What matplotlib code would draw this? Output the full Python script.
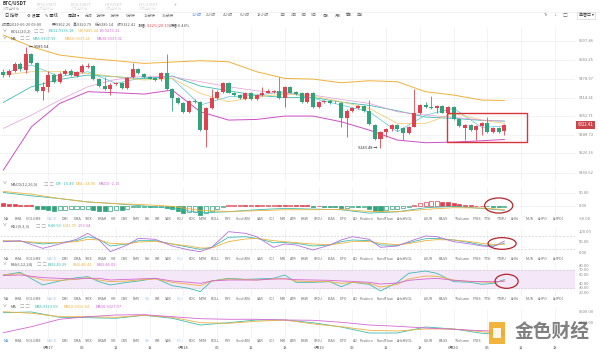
import matplotlib
matplotlib.use("Agg")
import matplotlib.pyplot as plt
from matplotlib.patches import Rectangle, Ellipse
from matplotlib.transforms import blended_transform_factory
import numpy as np

plt.rcParams["font.family"] = ["Noto Sans CJK SC", "DejaVu Sans"]

# ---- candle data (1h, 6/16 16:00 .. 6/20 09:00) ----
opens = [9502.6, 9491.3, 9506.0, 9528.6, 9508.3, 9562.5, 9533.0, 9438.0, 9451.8, 9491.3,
         9468.7, 9494.7, 9506.0, 9489.0, 9502.6, 9519.6, 9522.0, 9476.7, 9454.0, 9442.8,
         9460.8, 9465.4, 9446.0, 9483.4, 9510.6, 9493.6, 9483.4, 9480.0, 9476.7, 9499.3,
         9442.8, 9412.0, 9397.6, 9367.0, 9403.0, 9399.8, 9305.0, 9378.3, 9412.0, 9434.8,
         9463.0, 9431.5, 9423.5, 9410.0, 9429.0, 9410.0, 9423.5, 9431.5, 9434.8, 9438.0,
         9412.0, 9451.8, 9434.8, 9429.0, 9401.0, 9429.0, 9384.0, 9401.0, 9403.0, 9398.7,
         9397.6, 9344.4, 9370.4, 9378.3, 9386.3, 9370.4, 9321.8, 9273.3, 9299.2, 9307.2,
         9321.8, 9310.5, 9295.9, 9316.2, 9361.4, 9389.6, 9384.0, 9378.3, 9386.3, 9363.7,
         9381.7, 9341.0, 9310.5, 9321.8, 9305.0, 9318.5, 9329.8, 9299.2, 9310.5, 9302.26]
closes = [9491.3, 9505.0, 9528.6, 9510.6, 9562.5, 9533.0, 9438.0, 9451.8, 9491.3, 9468.7,
          9494.7, 9506.0, 9491.3, 9500.4, 9522.0, 9522.0, 9476.7, 9454.0, 9442.8, 9457.4,
          9465.4, 9446.0, 9480.0, 9510.6, 9497.0, 9483.4, 9479.0, 9474.4, 9499.3, 9442.8,
          9412.0, 9397.6, 9367.0, 9403.0, 9399.8, 9305.0, 9378.3, 9412.0, 9434.8, 9463.0,
          9431.5, 9423.5, 9412.0, 9429.0, 9410.0, 9423.5, 9431.5, 9438.0, 9435.5, 9412.0,
          9451.8, 9431.5, 9425.8, 9401.0, 9429.0, 9384.0, 9401.0, 9403.0, 9395.3, 9401.0,
          9344.4, 9370.4, 9378.3, 9386.3, 9370.4, 9325.2, 9273.3, 9299.2, 9307.2, 9321.8,
          9307.2, 9295.9, 9316.2, 9361.4, 9389.6, 9384.0, 9378.3, 9386.3, 9363.7, 9381.7,
          9341.0, 9318.5, 9321.8, 9305.0, 9318.5, 9329.8, 9299.2, 9310.5, 9299.2, 9322.41]
highs = [9510.6, 9510.6, 9536.5, 9536.5, 9585.54, 9567.0, 9536.5, 9468.7, 9506.0, 9497.0,
         9502.6, 9510.6, 9510.6, 9506.0, 9528.6, 9533.0, 9525.0, 9480.0, 9485.7, 9465.4,
         9468.7, 9468.7, 9483.4, 9533.0, 9514.0, 9497.0, 9488.0, 9483.4, 9502.6, 9562.5,
         9446.0, 9415.6, 9401.0, 9406.6, 9409.0, 9403.0, 9381.7, 9442.8, 9440.5, 9468.7,
         9466.5, 9434.8, 9427.0, 9432.6, 9432.6, 9427.0, 9451.8, 9442.8, 9440.5, 9483.4,
         9455.0, 9455.0, 9438.0, 9432.6, 9432.6, 9432.6, 9404.3, 9406.6, 9406.6, 9404.3,
         9401.0, 9375.0, 9381.7, 9389.6, 9389.6, 9406.6, 9325.2, 9302.6, 9310.5, 9325.2,
         9325.2, 9314.0, 9318.5, 9442.8, 9393.0, 9401.0, 9420.0, 9389.6, 9389.6, 9386.3,
         9386.3, 9344.4, 9325.2, 9325.2, 9321.8, 9333.0, 9347.8, 9314.0, 9314.0, 9325.79]
lows = [9485.7, 9485.7, 9502.6, 9506.0, 9497.0, 9528.6, 9434.8, 9406.6, 9434.8, 9463.0,
        9465.4, 9491.3, 9488.0, 9485.7, 9499.3, 9517.0, 9474.4, 9451.8, 9440.5, 9423.5,
        9457.4, 9442.8, 9442.8, 9480.0, 9493.6, 9480.0, 9476.7, 9472.0, 9472.0, 9440.5,
        9370.4, 9393.0, 9363.7, 9363.7, 9395.3, 9302.6, 9248.0, 9375.0, 9409.0, 9431.5,
        9429.0, 9420.0, 9409.0, 9406.6, 9406.6, 9406.6, 9420.0, 9429.0, 9429.0, 9409.0,
        9384.0, 9429.0, 9422.4, 9397.6, 9397.6, 9380.6, 9380.6, 9397.6, 9392.0, 9395.3,
        9316.2, 9282.3, 9367.0, 9375.0, 9367.0, 9321.8, 9271.0, 9243.48, 9282.3, 9302.6,
        9302.6, 9271.0, 9291.3, 9314.0, 9359.0, 9380.6, 9375.0, 9361.4, 9361.4, 9359.0,
        9338.8, 9314.0, 9271.0, 9301.5, 9271.0, 9288.0, 9295.9, 9295.9, 9295.9, 9289.14]

# overlay lines, read every 5 candles
line_idx = [0, 5, 10, 15, 20, 25, 30, 35, 40, 45, 50, 55, 60, 65, 70, 75, 80, 85, 89]
boll_ub = [9627.0, 9587.4, 9559.2, 9547.9, 9540.0, 9530.9, 9535.4, 9540.0, 9536.5, 9502.6,
           9480.0, 9477.8, 9465.4, 9472.1, 9468.8, 9434.9, 9423.6, 9406.6, 9405.2]
boll_mid = [9398.7, 9451.8, 9476.7, 9491.4, 9485.7, 9478.9, 9488.0, 9454.0, 9438.2, 9422.4,
            9415.6, 9415.6, 9399.8, 9388.5, 9370.4, 9349.0, 9344.5, 9337.7, 9335.2]
boll_lb = [9169.3, 9316.2, 9395.3, 9434.9, 9431.5, 9427.0, 9440.5, 9367.0, 9338.8, 9341.0,
           9352.4, 9352.4, 9333.2, 9304.9, 9271.0, 9262.0, 9264.2, 9268.7, 9273.1]
ma5 = [9497.0, 9525.3, 9485.7, 9502.7, 9463.1, 9483.4, 9480.1, 9389.7, 9417.9, 9423.6,
       9434.9, 9412.3, 9389.7, 9367.0, 9299.3, 9355.8, 9378.4, 9314.0, 9318.5]
ma10 = [9491.4, 9502.7, 9502.7, 9497.0, 9485.7, 9474.4, 9480.1, 9429.2, 9401.0, 9417.9,
        9426.9, 9420.2, 9401.0, 9378.4, 9327.5, 9327.5, 9361.4, 9338.8, 9327.5]
ma30 = [9310.6, 9355.8, 9406.6, 9451.8, 9476.7, 9488.0, 9485.7, 9468.8, 9451.8, 9438.2,
        9429.2, 9423.6, 9408.9, 9395.3, 9367.0, 9355.8, 9347.8, 9338.8, 9335.4]

# MACD
macd_hist = [13, 9, 6.5, 5, 4, 2.5, -10, -13, -15.6, -18,
             -15.6, -15, -13, -12.5, -12, -10, -15.6, -18, -21, -18,
             -15.6, -16, -10.4, -5.2, -4, -3.5, -3.8, -2.6, -2, -7.8,
             -13, -18, -28.6, -23.4, -23, -36.4, -26, -18.2, -10.4, -2.6,
             2.6, 3, 3.5, 2.6, 3, 2, 2.6, 3.2, 3.9, 3,
             2.6, 3.5, 2.6, 2.6, 2.6, -2.6, 1.3, -3.9, -3.9, -5.2,
             -7.8, -6.5, -5.2, -5.2, -5, -10.4, -18.2, -20.8, -15.6, -13,
             -10.4, -7.8, -2.6, 5.2, 10.4, 15.6, 18.2, 18.5, 15.6, 15,
             13, 6.5, 3.9, 2.6, 1.3, 1.3, -1.3, -2.6, -2.6, -2.2]
dif = [52, 39, 28.6, 15.6, 9.1, 0, -9.1, -26, -22.1, -14.3, -9.1, -11.7, -14.3, -27.3,
       -22.1, -6.5, -1.3, -9.1, -16.46]
dea = [55.9, 45.5, 28.6, 15.6, 9.1, 5.2, -1.3, -16.9, -20.8, -18.2, -14.3, -14.3, -13,
       -20.8, -22.1, -13, -6.5, -7.8, -14.05]

# KDJ / RSI
osc_idx = [0, 3, 7, 10, 13, 15, 17, 19, 22, 24, 27, 30, 33, 35, 37, 40, 43, 45, 48, 50,
           52, 55, 58, 60, 62, 65, 67, 70, 72, 75, 77, 80, 83, 85, 87, 89]
kdj_k = [56.9, 55.4, 43.1, 49.2, 58.5, 77, 64.7, 33.8, 43.1, 58.5,
         58.5, 43.1, 27.6, 18.4, 27.6, 73.9, 77, 69.3, 49.2, 49.2,
         46.1, 33.8, 38.4, 53.9, 61.6, 58.5, 38.4, 36.9, 49.2, 67.7,
         69.3, 61.6, 49.2, 38.4, 33.8, 46.6]
kdj_d = [58.5, 55.4, 49.2, 49.2, 53.9, 64.7, 61.6, 46.1, 43.1, 52.3,
         55.4, 43.1, 33.8, 24.5, 24.5, 53.9, 66.2, 69.3, 58.5, 53.9,
         49.2, 43.1, 40, 46.1, 53.9, 55.4, 46.1, 40, 44.6, 58.5,
         63.1, 61.6, 53.9, 46.1, 40, 41.8]
kdj_j = [53.9, 58.5, 23, 43.1, 64.7, 92.4, 61.6, 7.6, 38.4, 69.3,
         64.7, 33.8, 15.3, 7.6, 27.6, 100.1, 92.4, 77, 27.6, 43.1,
         38.4, 15.3, 38.4, 61.6, 77, 64.7, 27.6, 33.8, 53.9, 80.1,
         77, 53.9, 43.1, 33.8, 30.7, 56.6]
rsi1 = [59.8, 65.8, 37.3, 46.3, 53.8, 56, 44.8, 37.3, 43.3, 46.3,
        52.3, 35.8, 29.8, 22.3, 46.3, 52.3, 50, 50.8, 52.3, 59.8,
        43.3, 43.3, 44.8, 33.5, 43.3, 38.8, 23.8, 43.3, 63.5, 68.7,
        63.5, 44.8, 43.3, 38.8, 41, 49.4]
rsi2 = [59.8, 62.8, 48.5, 47.8, 50, 53.8, 48.5, 44.8, 46.3, 48.5,
        50.8, 43.3, 38.8, 35.8, 46.3, 50.8, 49.3, 48.5, 50.8, 52.3,
        46.3, 44.8, 44.8, 41, 43.3, 41, 32.8, 38.8, 50.8, 57.5,
        56.8, 48.5, 44.8, 44, 43.3, 46.4]
rsi3 = [58.3, 59.8, 53.8, 52.3, 50.8, 52.3, 52.3, 48.5, 50, 50.8,
        52.3, 46.3, 43.3, 41, 46.3, 48.5, 48.5, 48.5, 50.8, 50.8,
        49.3, 48.5, 47.8, 46.3, 45.5, 43.3, 39.5, 41.8, 47.8, 50.8,
        52.3, 47.8, 45.5, 44.8, 44.8, 46.0]

# lower MA panel
mp5 = [9493.6, 9500.0, 9451.8, 9448.2, 9442.7, 9470.0, 9442.7, 9381.8, 9402.7, 9427.3,
       9427.3, 9402.7, 9363.6, 9309.1, 9309.1, 9363.6, 9345.5, 9306.4, 9290.9]
mp10 = [9502.7, 9488.2, 9457.3, 9457.3, 9451.8, 9470.0, 9451.8, 9402.7, 9397.3, 9415.5,
        9427.3, 9390.9, 9366.4, 9333.7, 9327.3, 9345.5, 9345.5, 9320.9, 9302.7]
mp30 = [9311.8, 9366.4, 9433.6, 9457.3, 9472.7, 9475.5, 9457.3, 9439.1, 9433.6, 9433.6,
        9427.3, 9424.6, 9406.4, 9381.8, 9370.0, 9354.6, 9342.7, 9330.0, 9324.6]

price_ticks = ["9607.86", "9543.25", "9478.97", "9414.14", "9351.71", "9288.72", "9226.16", "9160.62"]
date_labels = ["6月17", "06", "12", "18", "6月18", "06", "12", "18",
               "6月19", "06", "12", "18", "6月20", "06", "12", "18"]
first_midnight = 8  # candle index of 6/17 00:00

ind_names = ["MA", "EMA", "VOLUME", "MACD", "DMI", "DMA", "TRIX", "BRAR", "VR", "OBV", "EMV",
             "RSI", "WR", "SAR", "KDJ", "ROC", "MTM", "BOLL", "PSY", "StochRSI", "SAR", "CCI",
             "MRI", "ATR", "BBW", "SKDJ", "BIAS", "DPO", "AO", "Position", "FundFlow", "AHxHVOL",
             "LSUR", "BAGS", "TVolume", "FTBS", "TTSI", "TTMU", "AHSI", "MUR", "AHPO", "AHPDI"]
ind_x = [6, 18, 33, 52, 65, 77, 89, 102, 113, 124, 136, 147, 158, 168, 180, 192, 203, 215, 228,
         243, 260, 272, 283, 293, 305, 318, 332, 343, 355, 367, 385, 405, 428, 443, 462, 477,
         488, 502, 515, 530, 543, 558]

periods = ["分时", "1分钟", "3分钟", "5分钟", "15分钟", "30分钟", "1小时", "2小时", "4小时",
           "6小时", "12小时", "1日", "2日", "3日", "5日", "周K", "月K", "季K", "年K"]
period_x = [89, 101, 115, 131, 150, 168, 197, 211, 228, 245, 263, 283, 294, 304, 314, 326, 338, 349, 360]

W, H = 600, 353
PLOT_R = 575
X_LO, X_HI = -0.59, 101.55
UP, DOWN = "#e0424f", "#33a27a"
TEAL, GOLD, PINK = "#3bbcb2", "#f0b13a", "#d466d4"
GRID = "#efefef"
TXT = "#555555"
FS = 2.9
date_pos = [first_midnight + 6 * k for k in range(len(date_labels))]

fig = plt.figure(figsize=(6, 3.53), dpi=100)


def ftext(x, y, s, **kw):
    kw.setdefault("fontsize", FS)
    kw.setdefault("color", TXT)
    kw.setdefault("va", "center")
    return fig.text(x / W, 1 - y / H, s, **kw)


def panel(y0, y1, ylim):
    ax = fig.add_axes([0, 1 - y1 / H, PLOT_R / W, (y1 - y0) / H])
    ax.set_xlim(X_LO, X_HI)
    ax.set_ylim(*ylim)
    ax.axis("off")
    for p in date_pos:
        ax.axvline(p, color=GRID, lw=0.5, zorder=0)
    return ax


def right_labels(ax, vals, labels):
    tr = blended_transform_factory(ax.transAxes, ax.transData)
    for v, s in zip(vals, labels):
        ax.text(1.006, v, s, transform=tr, fontsize=3.0, color="#888888",
                va="center", clip_on=False)


def legend_row(y, title, title_x, box_x, items):
    ftext(3, y, "∨", fontsize=2.8)
    ftext(title_x, y, title)
    ftext(box_x, y, "□ □", fontsize=3.2, color="#aaaaaa")
    for xp, s, col in items:
        ftext(xp, y, s, color=col)


# ---- header ----
ftext(3, 4, "BTC/USDT", fontsize=3.4, color="#333333", weight="bold")
ftext(3, 9, "火币全球站", fontsize=2.4, color="#aaaaaa")
for xt, name in zip([37, 71, 105, 139], ["ETH/USDT", "EOS/USDT", "HT/USDT", "LTC/USDT"]):
    ftext(xt, 4, name, fontsize=3.0, color="#cccccc")
    ftext(xt, 9, "火币全球站", fontsize=2.4, color="#dddddd")
ftext(174, 5, "+", fontsize=3.6, color="#aaaaaa")
fig.add_artist(plt.Line2D([0, 1], [1 - 12 / H, 1 - 12 / H], color="#eeeeee", lw=0.5))

ftext(5, 15.5, "日 指标", fontsize=3.0, color="#333333")
ftext(27, 15.5, "⚙ 设置", fontsize=3.0, color="#333333")
ftext(45, 15.5, "✎ 画线", fontsize=3.0, color="#333333")
ftext(68, 15.5, "周期 ▾", fontsize=3.0, color="#333333")
for s, xp in zip(periods, period_x):
    ftext(xp, 15.5, s, fontsize=2.8, ha="center",
          color="#3b7ddd" if s == "1小时" else "#666666")
ftext(546, 15.5, "Tr", fontsize=3.0, color="#666666", ha="center")
ftext(556, 15.5, "⁞⁞", fontsize=3.0, color="#666666", ha="center")
ftext(565, 15.5, "□", fontsize=3.4, color="#666666", ha="center")
ftext(586, 15.5, "单窗口 ▾", fontsize=2.9, color="#333333", ha="center",
      bbox=dict(boxstyle="square,pad=0.4", fc="white", ec="#cccccc", lw=0.4))

# info line
ftext(2, 25, "时间2020-06-20 09:00", fontsize=2.8)
ftext(52, 25, "开:9302.26", fontsize=2.8)
ftext(73, 25, "高:9320.79", fontsize=2.8)
ftext(95, 25, "低:9289.14", fontsize=2.8)
ftext(117, 25, "收:9322.41", fontsize=2.8)
ftext(138, 25, "涨幅:", fontsize=2.8)
ftext(147, 25, "0.22%(20.10)", fontsize=2.8, color=UP)
ftext(170, 25, "振幅:0.44%", fontsize=2.8)

# ---- main price panel ----
ax = panel(28, 181, (9132.3, 9650.9))
for t in price_ticks:
    ax.axhline(float(t), color=GRID, lw=0.5, zorder=0)
right_labels(ax, [float(t) for t in price_ticks], price_ticks)

o, c, hi, lo = map(np.asarray, (opens, closes, highs, lows))
x = np.arange(len(o))
cols = np.where(c >= o, UP, DOWN)
ax.vlines(x, lo, hi, colors=cols, lw=0.6, zorder=3)
ax.bar(x, np.maximum(np.abs(c - o), 1.2), bottom=np.minimum(o, c), width=0.72,
       color=cols, lw=0, zorder=4)

for vals, col, lw in [(boll_ub, GOLD, 0.7), (boll_mid, TEAL, 0.6), (boll_lb, "#cc4fc6", 0.7),
                      (ma5, "#59c7d4", 0.5), (ma10, "#f3c55a", 0.5), (ma30, "#e49ad9", 0.5)]:
    ax.plot(line_idx, vals, color=col, lw=lw, zorder=2)

ih = int(np.argmax(hi))
ax.text(ih + 0.5, hi[ih], f"← {hi[ih]:.2f}", fontsize=2.9, color="#333333", va="center")
il = int(np.argmin(lo))
ax.text(il - 0.5, lo[il], f"{lo[il]:.2f} →", fontsize=2.9, color="#333333", va="center", ha="right")

ax.add_patch(Rectangle((78.8, 9263.4), 14.3, 98.3, fill=False, ec="#d8343a", lw=1.0, zorder=6))
tr = blended_transform_factory(ax.transAxes, ax.transData)
ax.text(1.004, c[-1], f"{c[-1]:.2f}", transform=tr, fontsize=3.1, color="white", va="center",
        clip_on=False, bbox=dict(boxstyle="square,pad=0.35", fc="#c9454a", ec="none"))

legend_row(31.5, "BOLL(20,2)", 11, 34, [(49, "BOLL:9335.18", TEAL), (78, "UB:9405.24", GOLD),
                                        (100, "LB:9273.11", PINK)])
legend_row(38.5, "MA", 11, 20, [(33, "MA5:9337.99", TEAL), (65, "MA10:9337.26", GOLD),
                                (97, "MA30:9337.31", PINK)])

# ---- MACD ----
axm = panel(187, 218, (-46, 73))
for v in (50, 0, -50):
    axm.axhline(v, color=GRID, lw=0.5, zorder=0)
right_labels(axm, [50, 0, -50], ["50.00", "0.00", "-50.00"])
hist = np.asarray(macd_hist)
rising = np.r_[False, hist[1:] > hist[:-1]]
for xi, hv, r in zip(x, hist, rising):
    col = UP if hv >= 0 else DOWN
    axm.bar(xi, hv, width=0.72, color="white" if r else col, ec=col, lw=0.5, zorder=3)
axm.plot(line_idx, dif, color=TEAL, lw=0.6, zorder=4)
axm.plot(line_idx, dea, color=GOLD, lw=0.6, zorder=4)
axm.add_patch(Ellipse((88.0, 2), 5.0, 58, fill=False, ec="#b3242c", lw=0.9, zorder=6))
legend_row(184, "MACD(12,26,9)", 11, 44, [(56, "DIF:-16.46", TEAL), (76, "DEA:-14.05", GOLD),
                                          (99, "MACD:-2.15", PINK)])

# ---- KDJ ----
axk = panel(229, 255, (-7.9, 112.5))
for v in (80, 20):
    axk.axhline(v, color="#cfcfcf", lw=0.5, ls=(0, (3, 2)), zorder=0)
right_labels(axk, [100, 50, 0], ["100.00", "50.00", "0.00"])
axk.plot(osc_idx, kdj_k, color=TEAL, lw=0.6)
axk.plot(osc_idx, kdj_d, color=GOLD, lw=0.6)
axk.plot(osc_idx, kdj_j, color="#b46ee0", lw=0.6)
axk.add_patch(Ellipse((88.6, 45.4), 5.0, 54, fill=False, ec="#b3242c", lw=0.9, zorder=6))
legend_row(226, "KDJ(9,3,3)", 11, 36, [(48, "K:46.59", TEAL), (63, "D:41.75", GOLD),
                                       (78, "J:56.64", PINK)])

# ---- RSI ----
axr = panel(263, 296, (12.6, 86.7))
axr.axhspan(30, 70, color="#f4e7f8", zorder=0)
for v in (70, 30):
    axr.axhline(v, color="#cfcfcf", lw=0.5, ls=(0, (3, 2)), zorder=1)
right_labels(axr, [80, 70, 60, 40, 30, 20], ["80.00", "70.00", "60.00", "40.00", "30.00", "20.00"])
axr.plot(osc_idx, rsi1, color=TEAL, lw=0.6, zorder=3)
axr.plot(osc_idx, rsi2, color=GOLD, lw=0.6, zorder=3)
axr.plot(osc_idx, rsi3, color=PINK, lw=0.6, zorder=3)
axr.add_patch(Ellipse((89.4, 45.6), 4.1, 31.5, fill=False, ec="#b3242c", lw=0.9, zorder=6))
legend_row(264.5, "RSI(6,12,24)", 11, 37, [(48, "RSI1:49.39", TEAL), (73, "RSI2:46.41", GOLD),
                                           (97, "RSI3:46.02", PINK)])

# ---- MA panel ----
axa = panel(309, 338, (9263.6, 9527))
right_labels(axa, [9500, 9400], ["9500.00", "9400.00"])
axa.plot(line_idx, mp5, color=TEAL, lw=0.6)
axa.plot(line_idx, mp10, color=GOLD, lw=0.6)
axa.plot(line_idx, mp30, color=PINK, lw=0.6)
legend_row(306.5, "MA", 11, 20, [(35, "MA5:9313.09", TEAL), (64, "MA10:9310.64", GOLD),
                                 (96, "MA30:9327.07", PINK)])

# ---- indicator button rows ----
LIGHT, BLUE = "#a9c4ea", "#3b7ddd"
rows = [(219.3, {"MACD": LIGHT}),
        (259.3, {"MACD": LIGHT, "KDJ": LIGHT}),
        (299.5, {"MACD": LIGHT, "KDJ": LIGHT, "RSI": LIGHT}),
        (340.5, {"MA": BLUE, "MACD": LIGHT, "KDJ": LIGHT, "RSI": LIGHT})]
for yr, act in rows:
    for name, xc in zip(ind_names, ind_x):
        if yr > 330 and xc > 480:
            continue  # hidden behind the watermark logo
        ftext(xc, yr, name, fontsize=2.6, ha="center", color=act.get(name, "#666666"))

# date axis
for p, s in zip(date_pos, date_labels):
    xp = (p - X_LO) / (X_HI - X_LO) * PLOT_R
    ftext(xp, 348.3, s, fontsize=2.9, ha="center")

# watermark logo
fig.add_artist(Rectangle((489 / W, 1 - 344 / H), 16 / W, 22 / H, transform=fig.transFigure,
                         fc="#f2a71b", ec="none", alpha=0.85))
fig.add_artist(Rectangle((493 / W, 1 - 338 / H), 8 / W, 10 / H, transform=fig.transFigure,
                         fc="white", ec="none", alpha=0.9))
ftext(552, 331, "金色财经", fontsize=13.5, ha="center", color="#4a4a4a", alpha=0.7, weight="bold")

fig.savefig("out.png", dpi=100)
